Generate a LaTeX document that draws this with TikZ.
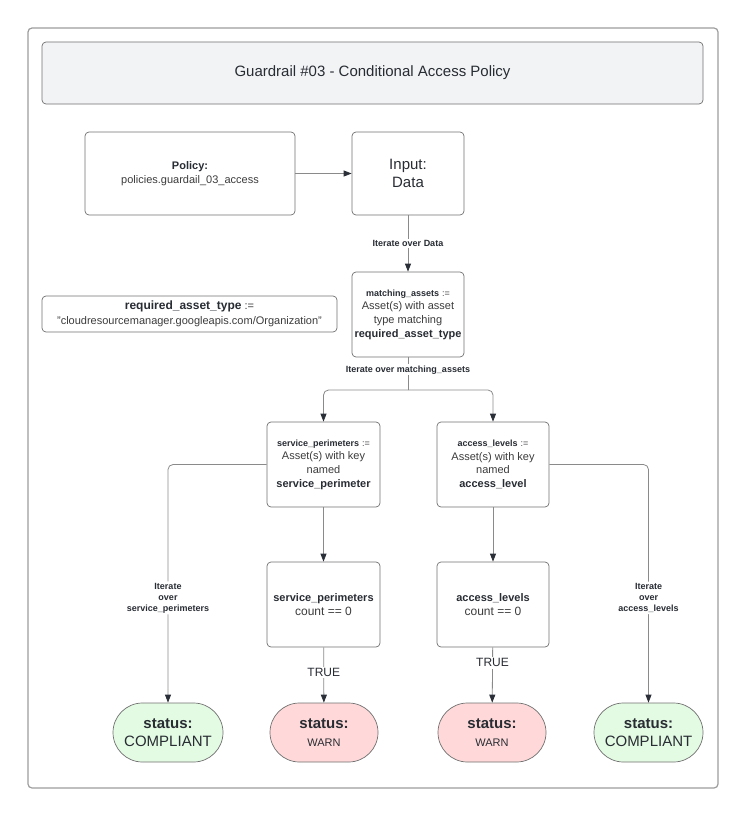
\documentclass[tikz,border=0pt]{standalone}
\usepackage{fontspec}
\setmainfont{Liberation Sans}
\usetikzlibrary{arrows.meta}
\usetikzlibrary{shapes.misc}

\definecolor{framegray}{HTML}{9C9C9C}
\definecolor{boxgray}{HTML}{707070}
\definecolor{edgegray}{HTML}{8A8A8A}
\definecolor{tipdark}{HTML}{2B3038}
\definecolor{txtdark}{HTML}{282C33}
\definecolor{txtgray}{HTML}{3C3C3C}
\definecolor{titlefill}{HTML}{F2F3F5}
\definecolor{okfill}{HTML}{E3FAE3}
\definecolor{warnfill}{HTML}{FFD9D9}

\newcommand{\fsmall}{\fontsize{9}{11}\selectfont}
\newcommand{\fnorm}{\fontsize{11}{13.7}\selectfont}
\newcommand{\fbig}{\fontsize{15}{18}\selectfont}

\begin{document}
\begin{tikzpicture}[x=1pt,y=-1pt,
  box/.style={draw=boxgray,rounded corners=4pt,line width=0.7pt,fill=white,
    align=center,text=txtgray,inner sep=2pt,font=\fnorm},
  state/.style={rounded rectangle,draw=boxgray,line width=0.7pt,
    minimum height=59pt,align=center,text=txtdark,inner sep=2pt},
  conn/.style={draw=edgegray,line width=0.8pt,
    -{Triangle[length=8pt,width=6pt,color=tipdark]}},
  lbl/.style={fill=white,text=txtdark,font=\fsmall\bfseries,align=center,inner sep=1.5pt}
]
  \useasboundingbox (0,0) rectangle (746,816);

  % frame and title
  \draw[framegray,line width=1.2pt,rounded corners=4pt] (28,28) rectangle (718,788);
  \node[box,fill=titlefill,minimum width=661pt,minimum height=62pt,
    font=\fbig,text=txtdark] (title) at (372.5,73) {Guardrail \#03 - Conditional Access Policy};

  % top row
  \node[box,minimum width=210pt,minimum height=83pt] (policy) at (190,173.5)
    {{\bfseries\color{txtdark}Policy:}\\policies.guardail\_03\_access};
  \node[box,minimum width=112pt,minimum height=83pt,font=\fbig,text=txtdark] (input) at (408,173.5)
    {Input:\\Data};

  % asset filter
  \node[box,minimum width=295pt,minimum height=36pt] (reqtype) at (189.5,314)
    {{\fontsize{12}{14}\selectfont\bfseries\color{txtdark}required\_asset\_type} :=\\[1pt]
     "cloudresourcemanager.googleapis.com/Organization"};
  \node[box,minimum width=112pt,minimum height=85pt] (match) at (408,314.5)
    {{\fsmall\bfseries\color{txtdark}matching\_assets} {\fsmall:=}\\Asset(s) with asset\\type matching\\
     {\bfseries\color{txtdark}required\_asset\_type}};

  % split
  \node[box,minimum width=113pt,minimum height=85pt] (svc) at (323.5,464.5)
    {{\fsmall\bfseries\color{txtdark}service\_perimeters} {\fsmall:=}\\Asset(s) with key\\named\\
     {\bfseries\color{txtdark}service\_perimeter}};
  \node[box,minimum width=112pt,minimum height=85pt] (acc) at (493,464.5)
    {{\fsmall\bfseries\color{txtdark}access\_levels} {\fsmall:=}\\Asset(s) with key\\named\\
     {\bfseries\color{txtdark}access\_level}};

  \node[box,minimum width=113pt,minimum height=85pt] (svccnt) at (323.5,604.5)
    {{\bfseries\color{txtdark}service\_perimeters}\\{\fontsize{12}{14}\selectfont count == 0}};
  \node[box,minimum width=112pt,minimum height=85pt] (acccnt) at (493,604.5)
    {{\bfseries\color{txtdark}access\_levels}\\{\fontsize{12}{14}\selectfont count == 0}};

  % results
  \node[state,fill=okfill,minimum width=114pt,font=\fbig] (ok1) at (168,732.5)
    {{\bfseries status:}\\COMPLIANT};
  \node[state,fill=warnfill,minimum width=112pt,font=\fbig] (warn1) at (324,732.5)
    {{\bfseries status:}\\{\fnorm WARN}};
  \node[state,fill=warnfill,minimum width=112pt,font=\fbig] (warn2) at (492,732.5)
    {{\bfseries status:}\\{\fnorm WARN}};
  \node[state,fill=okfill,minimum width=113pt,font=\fbig] (ok2) at (648.5,732.5)
    {{\bfseries status:}\\COMPLIANT};

  \coordinate (fork) at (408,390);

  % connectors
  \draw[conn] (policy) -- (input);
  \draw[conn] (input) -- node[lbl] {Iterate over Data} (match);
  \draw[draw=edgegray,line width=0.8pt] (match) -- node[lbl,pos=0.38] {Iterate over matching\_assets} (fork);
  \draw[conn,rounded corners=5pt] (fork) -| (svc);
  \draw[conn,rounded corners=5pt] (fork) -| (acc);
  \draw[conn,rounded corners=5pt] (svc.west) -| node[lbl,pos=0.78] {Iterate\\over\\service\_perimeters} (ok1);
  \draw[conn,rounded corners=5pt] (acc.east) -| node[lbl,pos=0.78] {Iterate\\over\\access\_levels} (ok2);
  \draw[conn] (svc) -- (svccnt);
  \draw[conn] (acc) -- (acccnt);
  \draw[conn] (svccnt) -- node[lbl,font=\fontsize{12}{14}\selectfont,pos=0.45] {TRUE} (warn1);
  \draw[conn] (acccnt) -- node[lbl,font=\fontsize{12}{14}\selectfont,pos=0.28] {TRUE} (warn2);
\end{tikzpicture}
\end{document}
